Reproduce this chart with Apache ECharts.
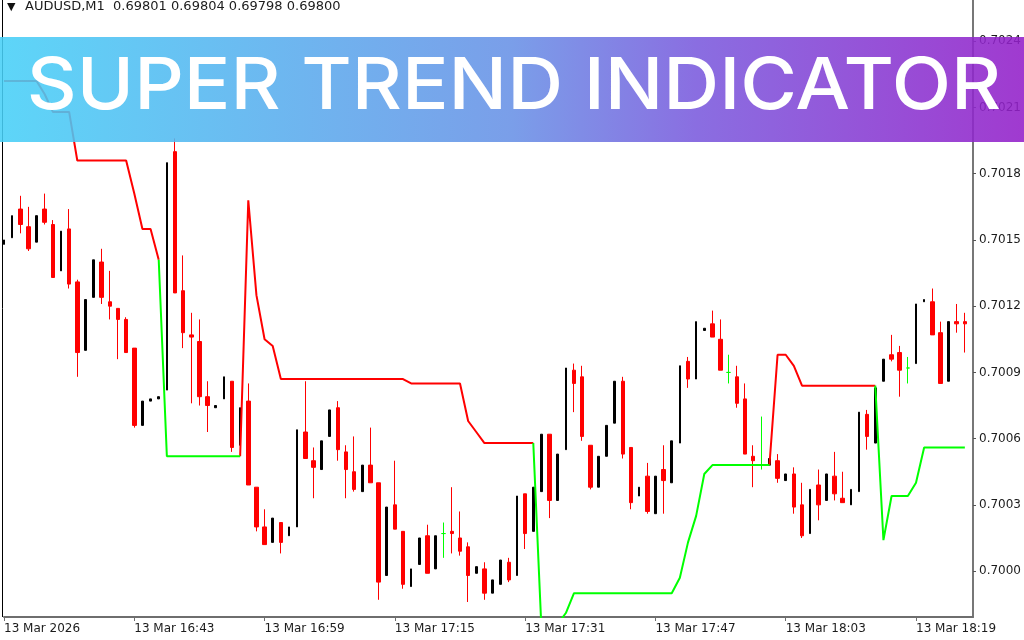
<!DOCTYPE html>
<html>
<head>
<meta charset="utf-8">
<title>Super Trend Indicator</title>
<script src="https://cdn.jsdelivr.net/npm/echarts@6/dist/echarts.min.js"></script>
<style>
  html, body { margin: 0; padding: 0; background: #fff; }
  #chart { width: 1024px; height: 640px; }
</style>
</head>
<body>
<div id="chart"></div>
<script>
  // minute bars, AUDUSD M1 (last category left empty like the terminal)
  var categories = [
    '16:27','16:28','16:29','16:30','16:31','16:32','16:33','16:34','16:35','16:36','16:37','16:38','16:39','16:40','16:41','16:42','16:43',
    '16:44','16:45','16:46','16:47','16:48','16:49','16:50','16:51','16:52','16:53','16:54','16:55','16:56','16:57','16:58','16:59',
    '17:00','17:01','17:02','17:03','17:04','17:05','17:06','17:07','17:08','17:09','17:10','17:11','17:12','17:13','17:14','17:15',
    '17:16','17:17','17:18','17:19','17:20','17:21','17:22','17:23','17:24','17:25','17:26','17:27','17:28','17:29','17:30','17:31',
    '17:32','17:33','17:34','17:35','17:36','17:37','17:38','17:39','17:40','17:41','17:42','17:43','17:44','17:45','17:46','17:47',
    '17:48','17:49','17:50','17:51','17:52','17:53','17:54','17:55','17:56','17:57','17:58','17:59','18:00','18:01','18:02','18:03',
    '18:04','18:05','18:06','18:07','18:08','18:09','18:10','18:11','18:12','18:13','18:14','18:15','18:16','18:17','18:18','18:19',
    '18:20','18:21','18:22','18:23','18:24','18:25','18:26'
  ];

  var open = [
    0.70148,0.70151,0.70164,0.70156,0.70149,0.70164,0.70157,0.70136,0.70155,0.70131,
    0.70100,0.70124,0.70140,0.70122,0.70119,0.70114,0.70101,0.70066,0.70077,0.70078,
    0.70082,0.70190,0.70127,0.70107,0.70104,0.70079,0.70074,0.70078,0.70086,0.70057,
    0.70077,0.70038,0.70020,0.70013,0.70022,0.70016,0.70020,0.70063,0.70050,0.70046,
    0.70061,0.70074,0.70054,0.70045,0.70036,0.70048,0.70040,0.69998,0.70030,0.70018,
    0.69993,0.70003,0.70016,0.70001,0.70017,0.70018,0.70015,0.70011,0.69999,0.70001,
    0.69990,0.69994,0.70004,0.69998,0.70035,0.70018,0.70036,0.70062,0.70032,0.70055,
    0.70091,0.70088,0.70057,0.70038,0.70052,0.70067,0.70086,0.70056,0.70034,0.70043,
    0.70026,0.70046,0.70040,0.70058,0.70095,0.70087,0.70109,0.70112,0.70105,0.70090,
    0.70088,0.70078,0.70052,0.70048,0.70048,0.70050,0.70041,0.70044,0.70030,0.70017,
    0.70039,0.70032,0.70043,0.70033,0.70030,0.70036,0.70071,0.70058,0.70086,0.70098,
    0.70099,0.70092,0.70094,0.70122,0.70122,0.70108,0.70086,0.70113,0.70113
  ];
  var high = [
    0.70150,0.70161,0.70170,0.70165,0.70161,0.70171,0.70159,0.70154,0.70164,0.70132,
    0.70123,0.70141,0.70146,0.70136,0.70119,0.70115,0.70101,0.70077,0.70078,0.70079,
    0.70185,0.70196,0.70143,0.70117,0.70114,0.70086,0.70075,0.70088,0.70086,0.70074,
    0.70085,0.70038,0.70028,0.70024,0.70022,0.70020,0.70064,0.70086,0.70056,0.70059,
    0.70073,0.70077,0.70057,0.70061,0.70048,0.70065,0.70040,0.70029,0.70050,0.70018,
    0.70001,0.70015,0.70021,0.70016,0.70022,0.70038,0.70027,0.70013,0.70002,0.70004,
    0.69996,0.70005,0.70006,0.70034,0.70035,0.70038,0.70062,0.70062,0.70053,0.70092,
    0.70094,0.70093,0.70057,0.70052,0.70066,0.70086,0.70088,0.70056,0.70038,0.70049,
    0.70043,0.70057,0.70059,0.70093,0.70097,0.70113,0.70110,0.70118,0.70114,0.70098,
    0.70093,0.70085,0.70057,0.70070,0.70051,0.70053,0.70044,0.70047,0.70040,0.70037,
    0.70046,0.70044,0.70054,0.70045,0.70037,0.70072,0.70073,0.70083,0.70096,0.70107,
    0.70102,0.70097,0.70121,0.70123,0.70128,0.70113,0.70113,0.70121,0.70117
  ];
  var low = [
    0.70148,0.70151,0.70153,0.70145,0.70149,0.70157,0.70133,0.70136,0.70128,0.70088,
    0.70100,0.70124,0.70121,0.70114,0.70096,0.70099,0.70065,0.70066,0.70077,0.70078,
    0.70082,0.70126,0.70101,0.70076,0.70075,0.70063,0.70074,0.70078,0.70054,0.70057,
    0.70039,0.70018,0.70012,0.70013,0.70008,0.70016,0.70020,0.70051,0.70033,0.70046,
    0.70061,0.70050,0.70033,0.70036,0.70036,0.70040,0.69987,0.69998,0.70019,0.69992,
    0.69993,0.70003,0.69999,0.70001,0.70006,0.70008,0.70007,0.69986,0.69999,0.69987,
    0.69990,0.69994,0.69995,0.69998,0.70010,0.70018,0.70036,0.70024,0.70032,0.70055,
    0.70072,0.70059,0.70037,0.70038,0.70052,0.70067,0.70051,0.70028,0.70034,0.70026,
    0.70026,0.70026,0.70040,0.70058,0.70083,0.70087,0.70109,0.70106,0.70091,0.70085,
    0.70074,0.70053,0.70038,0.70046,0.70048,0.70040,0.70041,0.70026,0.70015,0.70017,
    0.70023,0.70032,0.70032,0.70031,0.70030,0.70036,0.70055,0.70058,0.70086,0.70095,
    0.70079,0.70085,0.70094,0.70122,0.70107,0.70085,0.70086,0.70108,0.70099
  ];
  var close = [
    0.70150,0.70161,0.70157,0.70146,0.70161,0.70158,0.70133,0.70154,0.70130,0.70099,
    0.70123,0.70141,0.70124,0.70120,0.70114,0.70099,0.70066,0.70077,0.70078,0.70079,
    0.70185,0.70126,0.70108,0.70106,0.70079,0.70075,0.70075,0.70088,0.70056,0.70074,
    0.70039,0.70020,0.70012,0.70024,0.70013,0.70020,0.70064,0.70051,0.70047,0.70059,
    0.70073,0.70055,0.70046,0.70037,0.70048,0.70040,0.69995,0.70029,0.70019,0.69994,
    0.70001,0.70015,0.69999,0.70016,0.70017,0.70017,0.70009,0.69998,0.70002,0.69990,
    0.69996,0.70005,0.69996,0.70034,0.70017,0.70038,0.70062,0.70032,0.70053,0.70092,
    0.70085,0.70061,0.70038,0.70052,0.70066,0.70086,0.70053,0.70031,0.70038,0.70027,
    0.70043,0.70041,0.70059,0.70093,0.70087,0.70113,0.70110,0.70106,0.70091,0.70090,
    0.70076,0.70053,0.70050,0.70048,0.70051,0.70042,0.70044,0.70029,0.70016,0.70037,
    0.70030,0.70044,0.70035,0.70031,0.70037,0.70072,0.70061,0.70083,0.70096,0.70096,
    0.70091,0.70092,0.70121,0.70123,0.70107,0.70085,0.70113,0.70112,0.70112
  ];

  // super trend buffers: red above price (down), green below price (up)
  var trendDown = [
    0.70222,0.70222,0.70222,0.70222,0.70222,0.70216,0.70208,0.70208,0.70208,0.70186,
    0.70186,0.70186,0.70186,0.70186,0.70186,0.70186,0.70171,0.70155,0.70155,0.70141,
    null,null,null,null,null,null,null,null,null,0.70052,
    0.70168,0.70125,0.70105,0.70102,0.70087,0.70087,0.70087,0.70087,0.70087,0.70087,
    0.70087,0.70087,0.70087,0.70087,0.70087,0.70087,0.70087,0.70087,0.70087,0.70087,
    0.70085,0.70085,0.70085,0.70085,0.70085,0.70085,0.70085,0.70068,0.70063,0.70058,
    0.70058,0.70058,0.70058,0.70058,0.70058,0.70058,null,null,null,null,
    null,null,null,null,null,null,null,null,null,null,
    null,null,null,null,null,null,null,null,null,null,
    null,null,null,null,0.70048,0.70098,0.70098,0.70093,0.70084,0.70084,
    0.70084,0.70084,0.70084,0.70084,0.70084,0.70084,0.70084,0.70084,null,null,
    null,null,null,null,null,null,null,null,null
  ];
  var trendUp = [
    null,null,null,null,null,null,null,null,null,null,
    null,null,null,null,null,null,null,null,null,0.70141,
    0.70052,0.70052,0.70052,0.70052,0.70052,0.70052,0.70052,0.70052,0.70052,0.70052,
    null,null,null,null,null,null,null,null,null,null,
    null,null,null,null,null,null,null,null,null,null,
    null,null,null,null,null,null,null,null,null,null,
    null,null,null,null,null,0.70058,0.69974,0.69975,0.69976,0.69981,
    0.69990,0.69990,0.69990,0.69990,0.69990,0.69990,0.69990,0.69990,0.69990,0.69990,
    0.69990,0.69990,0.69990,0.69997,0.70013,0.70025,0.70044,0.70048,0.70048,0.70048,
    0.70048,0.70048,0.70048,0.70048,0.70048,null,null,null,null,null,
    null,null,null,null,null,null,null,0.70084,0.70014,0.70034,
    0.70034,0.70034,0.70040,0.70056,0.70056,0.70056,0.70056,0.70056,0.70056
  ];

  // price scale ticks and time labels (every 16 bars)
  var yTicks = [0.7000, 0.7003, 0.7006, 0.7009, 0.7012, 0.7015, 0.7018, 0.7021, 0.7024];
  var xTickLabels = ['13 Mar 2026', '13 Mar 16:43', '13 Mar 16:59', '13 Mar 17:15',
                     '13 Mar 17:31', '13 Mar 17:47', '13 Mar 18:03', '13 Mar 18:19'];
  var headerText = 'AUDUSD,M1  0.69801 0.69804 0.69798 0.69800';
  var bannerText = 'SUPER TREND INDICATOR';

  // split candles by direction, terminal draws them differently
  var empty = ['-', '-', '-', '-'];
  var bullData = [], bearData = [], dojiData = [];
  for (var i = 0; i < open.length; i++) {
    var k = [open[i], close[i], low[i], high[i]];
    bullData.push(close[i] > open[i] ? k : empty);
    bearData.push(close[i] < open[i] ? k : empty);
    dojiData.push(close[i] === open[i] ? k : empty);
  }

  function everyTick(index) {
    return index % 16 === 0;
  }

  var axisFont = 'DejaVu Sans';
  var mychart = echarts.init(document.getElementById('chart'));

  mychart.setOption({
    animation: false,
    backgroundColor: '#ffffff',
    grid: {
      left: 4,
      right: 51,
      top: 0,
      bottom: 23
    },
    xAxis: {
      type: 'category',
      data: categories,
      boundaryGap: false,
      axisLine: { lineStyle: { color: '#6e6e6e', width: 2 } },
      axisTick: { interval: everyTick, length: 4, lineStyle: { color: '#6e6e6e' } },
      axisLabel: {
        interval: everyTick,
        align: 'left',
        margin: 6,
        fontFamily: axisFont,
        fontSize: 12,
        color: '#1c1c1c',
        formatter: function (value, index) {
          return xTickLabels[index / 16] || '';
        }
      },
      splitLine: { show: false }
    },
    yAxis: {
      type: 'value',
      position: 'right',
      min: 0.699792,
      max: 0.702587,
      scale: true,
      axisLine: { show: true, lineStyle: { color: '#777777', width: 2 } },
      axisTick: { show: true, length: 3, customValues: yTicks, lineStyle: { color: '#555' } },
      axisLabel: {
        customValues: yTicks,
        margin: 6,
        fontFamily: axisFont,
        fontSize: 12,
        color: '#1c1c1c',
        formatter: function (v) { return v.toFixed(4); }
      },
      splitLine: { show: false }
    },
    series: [
      {
        name: 'bull',
        type: 'candlestick',
        data: bullData,
        barWidth: 2,
        itemStyle: { color: '#000000', borderColor: '#000000', color0: '#000000', borderColor0: '#000000', borderWidth: 1 }
      },
      {
        name: 'bear',
        type: 'candlestick',
        data: bearData,
        barWidth: 4,
        itemStyle: { color: '#ff0000', borderColor: '#ff0000', color0: '#ff0000', borderColor0: '#ff0000', borderWidth: 1 }
      },
      {
        name: 'doji',
        type: 'candlestick',
        data: dojiData,
        barWidth: 4,
        itemStyle: { color: '#00ff00', borderColor: '#00ff00', color0: '#00ff00', borderColor0: '#00ff00', borderColorDoji: '#00ff00', borderWidth: 1 }
      },
      {
        name: 'SuperTrend down',
        type: 'line',
        data: trendDown,
        symbol: 'none',
        connectNulls: false,
        z: 5,
        lineStyle: { color: '#ff0000', width: 2 }
      },
      {
        name: 'SuperTrend up',
        type: 'line',
        data: trendUp,
        symbol: 'none',
        connectNulls: false,
        z: 5,
        lineStyle: { color: '#00ff00', width: 2 }
      }
    ],
    graphic: [
      // left window border
      {
        type: 'line',
        z: 50,
        shape: { x1: 2.5, y1: 0, x2: 2.5, y2: 617 },
        style: { stroke: '#000000', lineWidth: 1 }
      },
      // symbol header
      {
        type: 'text',
        z: 50,
        left: 7,
        top: 2,
        style: { text: '\u25BC', font: '11px "DejaVu Sans"', fill: '#111' }
      },
      {
        type: 'text',
        z: 50,
        left: 25,
        top: 0,
        style: { text: headerText, font: '13px "DejaVu Sans"', fill: '#1c1c1c' }
      },
      // banner over the chart
      {
        type: 'rect',
        z: 100,
        shape: { x: 0, y: 37, width: 1024, height: 105 },
        style: {
          opacity: 0.88,
          fill: new echarts.graphic.LinearGradient(0, 0, 1, 0, [
            { offset: 0, color: '#47d0f7' },
            { offset: 0.5, color: '#6891e6' },
            { offset: 0.68, color: '#7a5add' },
            { offset: 1, color: '#931fc9' }
          ])
        }
      },
      {
        type: 'text',
        z: 101,
        x: 514,
        y: 87,
        scaleX: 1.075,
        style: {
          text: bannerText,
          font: '500 72px Inter',
          fill: '#ffffff',
          align: 'center',
          verticalAlign: 'middle'
        }
      }
    ]
  });
</script>
</body>
</html>
